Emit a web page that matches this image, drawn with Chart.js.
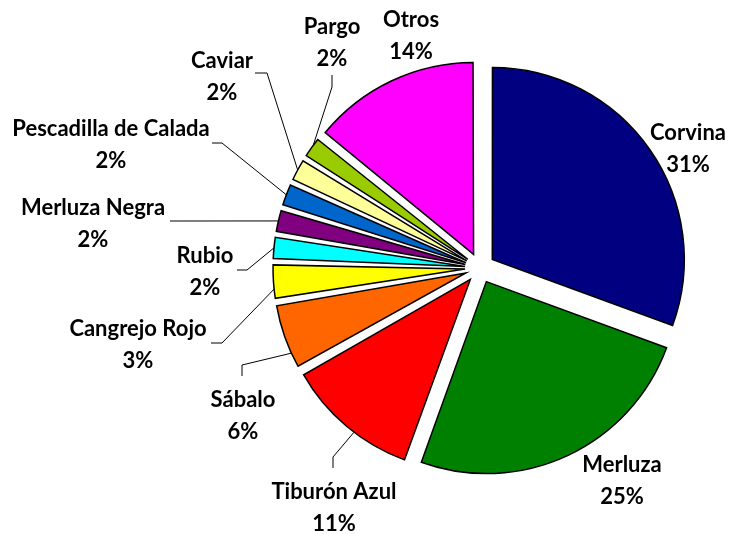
<!DOCTYPE html>
<html><head><meta charset="utf-8">
<script src="https://cdn.jsdelivr.net/npm/chart.js@4/dist/chart.umd.min.js"></script>
<style>html,body{margin:0;padding:0;background:#fff;overflow:hidden}</style>
</head><body>
<canvas id="c" width="733" height="534"></canvas>
<script>
const categories = ['Corvina','Merluza','Tiburón Azul','Sábalo','Cangrejo Rojo','Rubio','Merluza Negra','Pescadilla de Calada','Caviar','Pargo','Otros'];
const shares = [30.6,24.9,11.3,5.6,3.1,2.1,2.1,2.1,2.1,2.0,14.1];
const percentLabels = ['31%','25%','11%','6%','3%','2%','2%','2%','2%','2%','14%'];
const sliceColors = ['#000080','#008000','#FF0000','#FF6600','#FFFF00','#00FFFF','#800080','#0066CC','#FFFF99','#99CC00','#FF00FF'];
const explode = [60,60,60,60,60,60,60,60,60,60,60];

// label placement (text centre, optional leader path ending on the slice edge)
const labelLayout = [
  {x:688, y:133},
  {x:622, y:465},
  {x:334, y:492, leader:[[333,468],[333,457]], frac:0.43},
  {x:243, y:400, leader:[[242,376],[242,365]], frac:0.24},
  {x:138, y:329, leader:[[211,343],[222,343]], frac:0.3},
  {x:205, y:256, leader:[[237,270],[247,270]], frac:0.5},
  {x:93,  y:208, leader:[[170,221]], frac:0.5},
  {x:111, y:129, leader:[[212,143],[222,143]], frac:0.5},
  {x:222, y:61,  leader:[[255,73],[267,73]], frac:0.5},
  {x:332, y:27,  leader:[[332,75],[332,87]], frac:0.6},
  {x:411, y:20}
];

// Exploded slices keep the same radius (as in the spreadsheet original):
// cancel Chart.js' radius growth for offset arcs, keep its translation.
const baseArcDraw = Chart.ArcElement.prototype.draw;
Chart.ArcElement.prototype.draw = function (ctx) {
  const d = (this.options.offset || 0) / 4;
  const fix = 1 - Math.sin(Math.min(Math.PI, this.circumference || 0));
  const r = this.outerRadius;
  this.outerRadius = r - d * fix;
  baseArcDraw.call(this, ctx);
  this.outerRadius = r;
};

const labelPlugin = {
  id: 'sliceLabels',
  afterDatasetsDraw(chart) {
    const ctx = chart.ctx;
    const meta = chart.getDatasetMeta(0);
    const offs = chart.data.datasets[0].offset;
    ctx.save();
    ctx.fillStyle = '#000';
    ctx.font = 'bold 22px Lato';
    ctx.textAlign = 'center';
    ctx.textBaseline = 'middle';
    meta.data.forEach((arc, i) => {
      const L = labelLayout[i];
      ctx.fillText(categories[i], L.x, L.y);
      ctx.fillText(percentLabels[i], L.x, L.y + 32);
      if (L.leader) {
        const p = arc.getProps(['x','y','startAngle','endAngle','outerRadius'], true);
        const a = p.startAngle + (p.endAngle - p.startAngle) * L.frac;
        const mid = (p.startAngle + p.endAngle) / 2;
        const o = offs[i] / 4;
        const ex = p.x + Math.cos(mid) * o + Math.cos(a) * p.outerRadius;
        const ey = p.y + Math.sin(mid) * o + Math.sin(a) * p.outerRadius;
        ctx.beginPath();
        ctx.strokeStyle = '#000';
        ctx.lineWidth = 1;
        ctx.moveTo(L.leader[0][0], L.leader[0][1]);
        for (let k = 1; k < L.leader.length; k++) ctx.lineTo(L.leader[k][0], L.leader[k][1]);
        ctx.lineTo(ex, ey);
        ctx.stroke();
      }
    });
    ctx.restore();
  }
};

new Chart(document.getElementById('c'), {
  type: 'pie',
  data: {
    labels: categories,
    datasets: [{
      data: shares,
      backgroundColor: sliceColors,
      borderColor: '#000',
      borderWidth: 1.5,
      borderJoinStyle: 'miter',
      offset: explode
    }]
  },
  options: {
    responsive: false,
    animation: false,
    events: [],
    radius: 192,
    layout: { padding: { left: 227, right: 0, top: 2, bottom: 0 } },
    plugins: { legend: { display: false }, tooltip: { enabled: false } }
  },
  plugins: [labelPlugin]
});
</script>
</body></html>
